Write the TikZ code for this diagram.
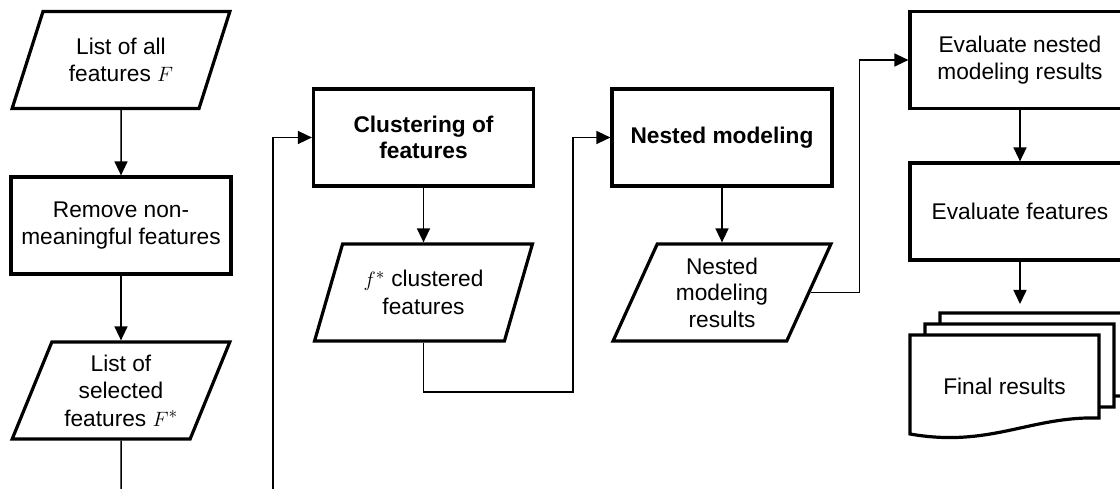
\documentclass[tikz,border=0pt]{standalone}
\usepackage{amsmath}
\usepackage{fontspec}
\setmainfont{Liberation Sans}
\usetikzlibrary{shapes.geometric,arrows.meta}

\tikzset{
  box/.style={draw, line width=3.2pt, minimum width=220pt, minimum height=97pt, align=center},
  io/.style={draw, line width=3.2pt, trapezium, trapezium left angle=66, trapezium right angle=114,
    trapezium stretches=true, minimum width=218pt, minimum height=97pt, inner sep=2pt, align=center},
  arr/.style={line width=1.5pt, -{Triangle[length=14pt,width=13pt]}},
  link/.style={line width=1.5pt},
  page/.style={draw, fill=white, line width=3.2pt},
}

\begin{document}
\begin{tikzpicture}[x=1pt, y=-1pt, font=\fontsize{22.7}{27.5}\selectfont]
    \path[use as bounding box, clip] (0,0) rectangle (1120,489);

    % Define nodes
    \node[io] (allfeat) at (121,60) {List of all\\features $F$};
    \node[box] (remove) at (121,225.5) {Remove non-\\meaningful features};
    \node[io] (selfeat) at (121,390.5) {List of\\selected\\features $F^*$};
    \node[box, font=\fontsize{22.7}{26.5}\selectfont\bfseries] (clust) at (423.5,137.5) {Clustering of\\features};
    \node[io] (clfeat) at (423.5,292.5) {$f^*$ clustered\\features};
    \node[box, font=\fontsize{22.7}{27.5}\selectfont\bfseries] (nested) at (722,137.5) {Nested modeling};
    \node[io, font=\fontsize{22.7}{26.5}\selectfont] (nestres) at (722,292.5) {Nested\\modeling\\results};
    \node[box] (evalnest) at (1020,60) {Evaluate nested\\modeling results};
    \node[box] (evalfeat) at (1020,211.5) {Evaluate features};

    % Stack of result pages
    \foreach \d in {2,1,0}
      \path[page, shift={(15*\d,-11*\d)}] (910,434) -- (910,335) -- (1099,335) -- (1099,418)
        .. controls (1030,416) and (990,448) .. (910,434) -- cycle;
    \node (final) at (1004.5,386) {Final results};

    % Loose ends
    \coordinate (cutA) at (121,489);
    \coordinate (cutB) at (273,489);
    \coordinate (stack) at (1020,304);

    % Draw edges
    \draw[arr] (allfeat) -- (remove);
    \draw[arr] (remove) -- (selfeat);
    \draw[link] (selfeat) -- (cutA);
    \draw[arr] (cutB) |- (clust);
    \draw[arr] (clust) -- (clfeat);
    \draw[arr] (clfeat.south) |- (573,392) |- (nested.west);
    \draw[arr] (nested) -- (nestres);
    \draw[arr] (nestres.east) -- ++(49,0) |- (evalnest.west);
    \draw[arr] (evalnest) -- (evalfeat);
    \draw[arr] (evalfeat) -- (stack);

  \end{tikzpicture}
\end{document}
